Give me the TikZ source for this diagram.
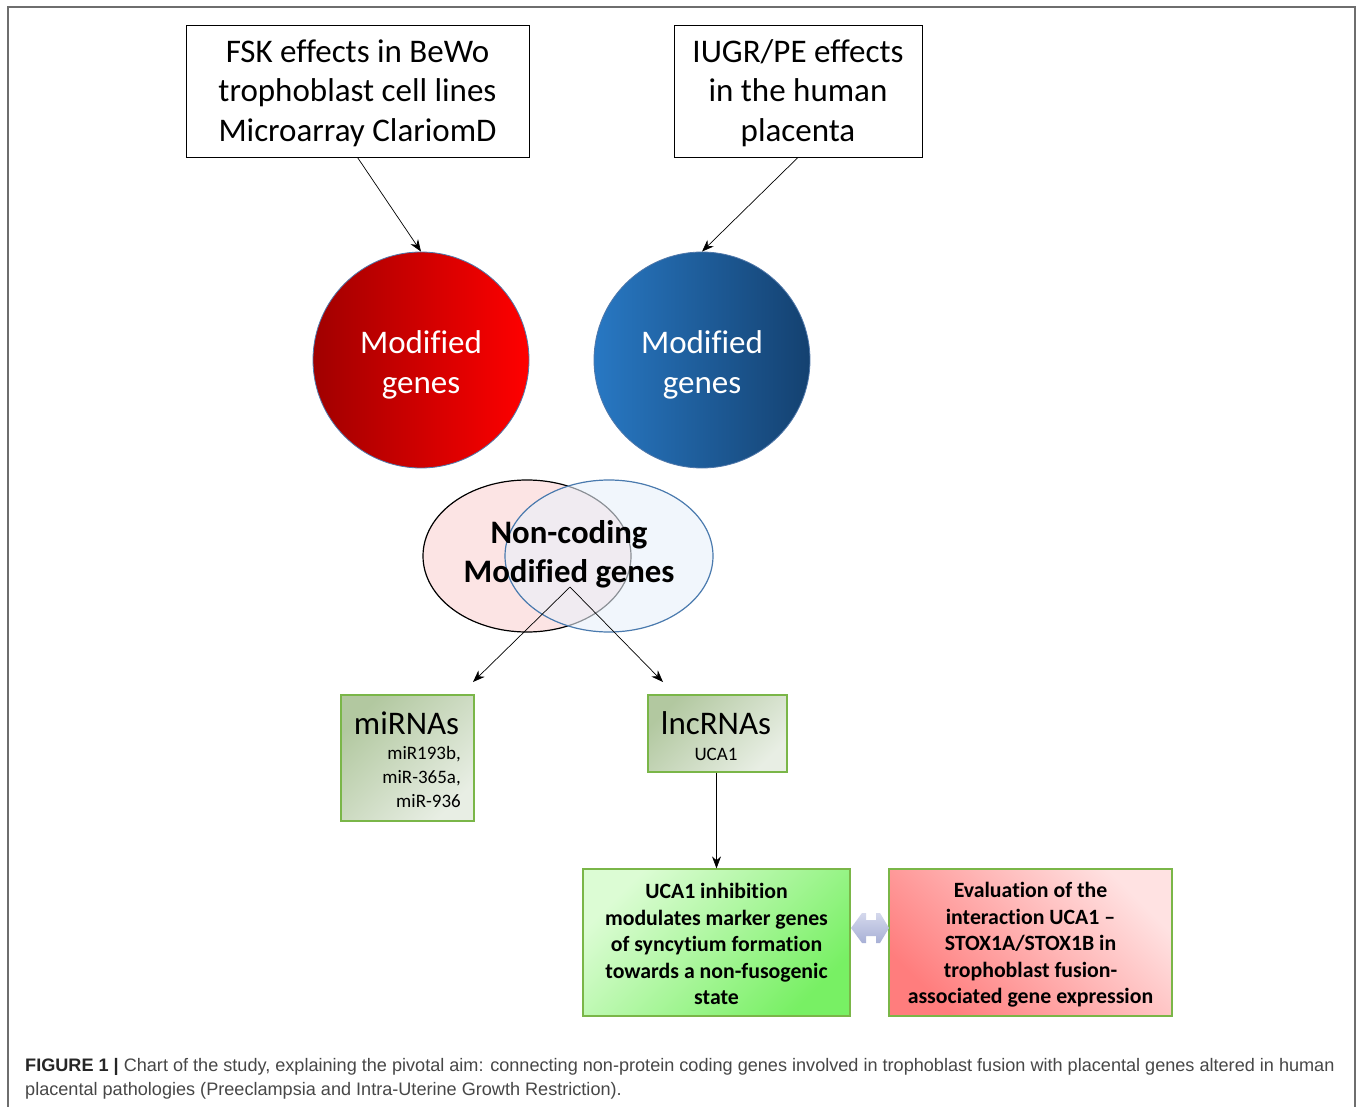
\documentclass[tikz,border=0pt]{standalone}
\usepackage{fontspec}
\setmainfont{Carlito}[Ligatures=NoCommon]
\newfontfamily\capfont{Liberation Sans}
\usetikzlibrary{arrows.meta,shapes.geometric}
\definecolor{frameg}{RGB}{110,110,110}
\definecolor{circb}{RGB}{80,120,170}
\definecolor{boxgreen}{RGB}{122,182,72}
\tikzset{
  topbox/.style={draw=black, line width=0.9pt, minimum width=#1, minimum height=132pt, inner sep=0pt},
  toptext/.style={align=center, inner sep=0pt, font=\fontsize{33}{39.5}\selectfont},
  circ/.style={circle, draw=circb, line width=0.8pt, minimum size=216pt, inner sep=0pt},
  circtext/.style={text=white, align=center, inner sep=0pt, font=\fontsize{33}{40}\selectfont},
  conn/.style={draw=black, line width=0.7pt, -{Stealth[length=12pt,width=9pt]}},
  rnabox/.style={draw=boxgreen, line width=1.2pt, inner sep=0pt,
     top color={rgb,255:red,178;green,200;blue,160}, bottom color={rgb,255:red,232;green,238;blue,228}, shading angle=45},
  bigbox/.style={draw=boxgreen, line width=1.2pt, inner sep=0pt},
  bigtext/.style={align=center, inner sep=0pt, font=\bfseries\fontsize{21.8}{26.5}\selectfont},
}
\begin{document}
\begin{tikzpicture}[x=1pt,y=-1pt]
\useasboundingbox (0,0) rectangle (1357,1107);
\fill[white] (0,0) rectangle (1357,1107);
% frame
\draw[frameg, line width=1.2pt] (8,1107) -- (8,7) -- (1355,7) -- (1355,1107);

% top boxes
\node[topbox=343pt] (fsk) at (357.5,91) {};
\node[toptext] (fskt) at (357.5,93) {FSK effects in BeWo\\trophoblast cell lines\\Microarray ClariomD};
\node[topbox=248pt] (iugr) at (798,91) {};
\node[toptext] (iugrt) at (798,93) {IUGR/PE effects\\in the human\\placenta};

% circles
\node[circ, left color={rgb,255:red,160;green,0;blue,0}, right color={rgb,255:red,255;green,0;blue,0}] (red) at (421,360) {};
\node[circtext] (redt) at (421,364.5) {Modified\\genes};
\node[circ, left color={rgb,255:red,40;green,120;blue,195}, right color={rgb,255:red,20;green,65;blue,112}] (blue) at (702,360) {};
\node[circtext] (bluet) at (702,364.5) {Modified\\genes};

\draw[conn] (fsk.south) -- (red.north);
\draw[conn] (iugr.south) -- (blue.north);

% Venn
\node[ellipse, draw=black, line width=1.2pt, fill={rgb,255:red,252;green,228;blue,228}, minimum width=208pt, minimum height=152pt, inner sep=0pt] (vl) at (527,556) {};
\node[ellipse, draw={rgb,255:red,74;green,122;blue,174}, line width=1.2pt, fill={rgb,255:red,232;green,240;blue,250}, fill opacity=0.6, draw opacity=1, minimum width=208pt, minimum height=152pt, inner sep=0pt] (vr) at (609,556) {};
\node[align=center, inner sep=0pt, font=\bfseries\fontsize{32.8}{39}\selectfont] (nc) at (569,554) {Non-coding\\Modified genes};

\coordinate (vsplit) at (570,587);
\coordinate (mend) at (473,682);
\coordinate (lend) at (663,682);
\draw[conn] (vsplit) -- (mend);
\draw[conn] (vsplit) -- (lend);

% RNA boxes
\node[rnabox, minimum width=133pt, minimum height=126pt] (mir) at (407.5,758) {};
\node[font=\fontsize{33}{34}\selectfont, anchor=base, inner sep=0pt] (mirt) at (406.5,734) {miRNAs};
\node[font=\fontsize{19}{24}\selectfont, align=right, anchor=north east, inner sep=0pt] (mirl) at (461,746) {miR193b,\\miR-365a,\\miR-936};

\node[rnabox, minimum width=139pt, minimum height=77pt] (lnc) at (717.5,733.5) {};
\node[font=\fontsize{33}{34}\selectfont, anchor=base, inner sep=0pt] (lnct) at (716,734) {lncRNAs};
\node[font=\fontsize{19}{24}\selectfont, anchor=base, inner sep=0pt] (lncu) at (716,760) {UCA1};

% bottom boxes
\node[bigbox, minimum width=267pt, minimum height=147pt,
  top color={rgb,255:red,220;green,252;blue,212}, bottom color={rgb,255:red,120;green,240;blue,100}, shading angle=45] (uca) at (716.5,942.5) {};
\node[bigtext] (ucat) at (716.5,944) {UCA1 inhibition\\modulates marker genes\\of syncytium formation\\towards a non-fusogenic\\state};
\node[bigbox, minimum width=283pt, minimum height=147pt,
  top color={rgb,255:red,255;green,226;blue,226}, bottom color={rgb,255:red,255;green,125;blue,125}, shading angle=-45] (eval) at (1030.5,942.5) {};
\node[bigtext] (evalt) at (1030.5,945) {Evaluation of the\\interaction UCA1 --\\STOX1A/STOX1B in\\trophoblast fusion-\\associated gene expression};

\draw[conn] (lnc.south -| uca.north) -- (uca.north);

% double arrow
\path[top color={rgb,255:red,212;green,216;blue,236}, bottom color={rgb,255:red,168;green,176;blue,214}]
  (851,928) -- (862,913) -- (866,913) -- (866,920) -- (876,920) -- (876,913) -- (880,913) -- (889,928)
  -- (880,943) -- (876,943) -- (876,936) -- (866,936) -- (866,943) -- (862,943) -- cycle;

% caption
\node[anchor=base west, inner sep=0pt, font=\capfont\fontsize{18.1}{24}\selectfont, text=black!72] (cap1) at (25,1071)
  {{\bfseries\color{black!85}FIGURE 1 |} Chart of the study, explaining the pivotal aim: connecting non-protein coding genes involved in trophoblast fusion with placental genes altered in human};
\node[anchor=base west, inner sep=0pt, font=\capfont\fontsize{18.1}{24}\selectfont, text=black!72] (cap2) at (25,1095)
  {placental pathologies (Preeclampsia and Intra-Uterine Growth Restriction).};
\end{tikzpicture}
\end{document}
